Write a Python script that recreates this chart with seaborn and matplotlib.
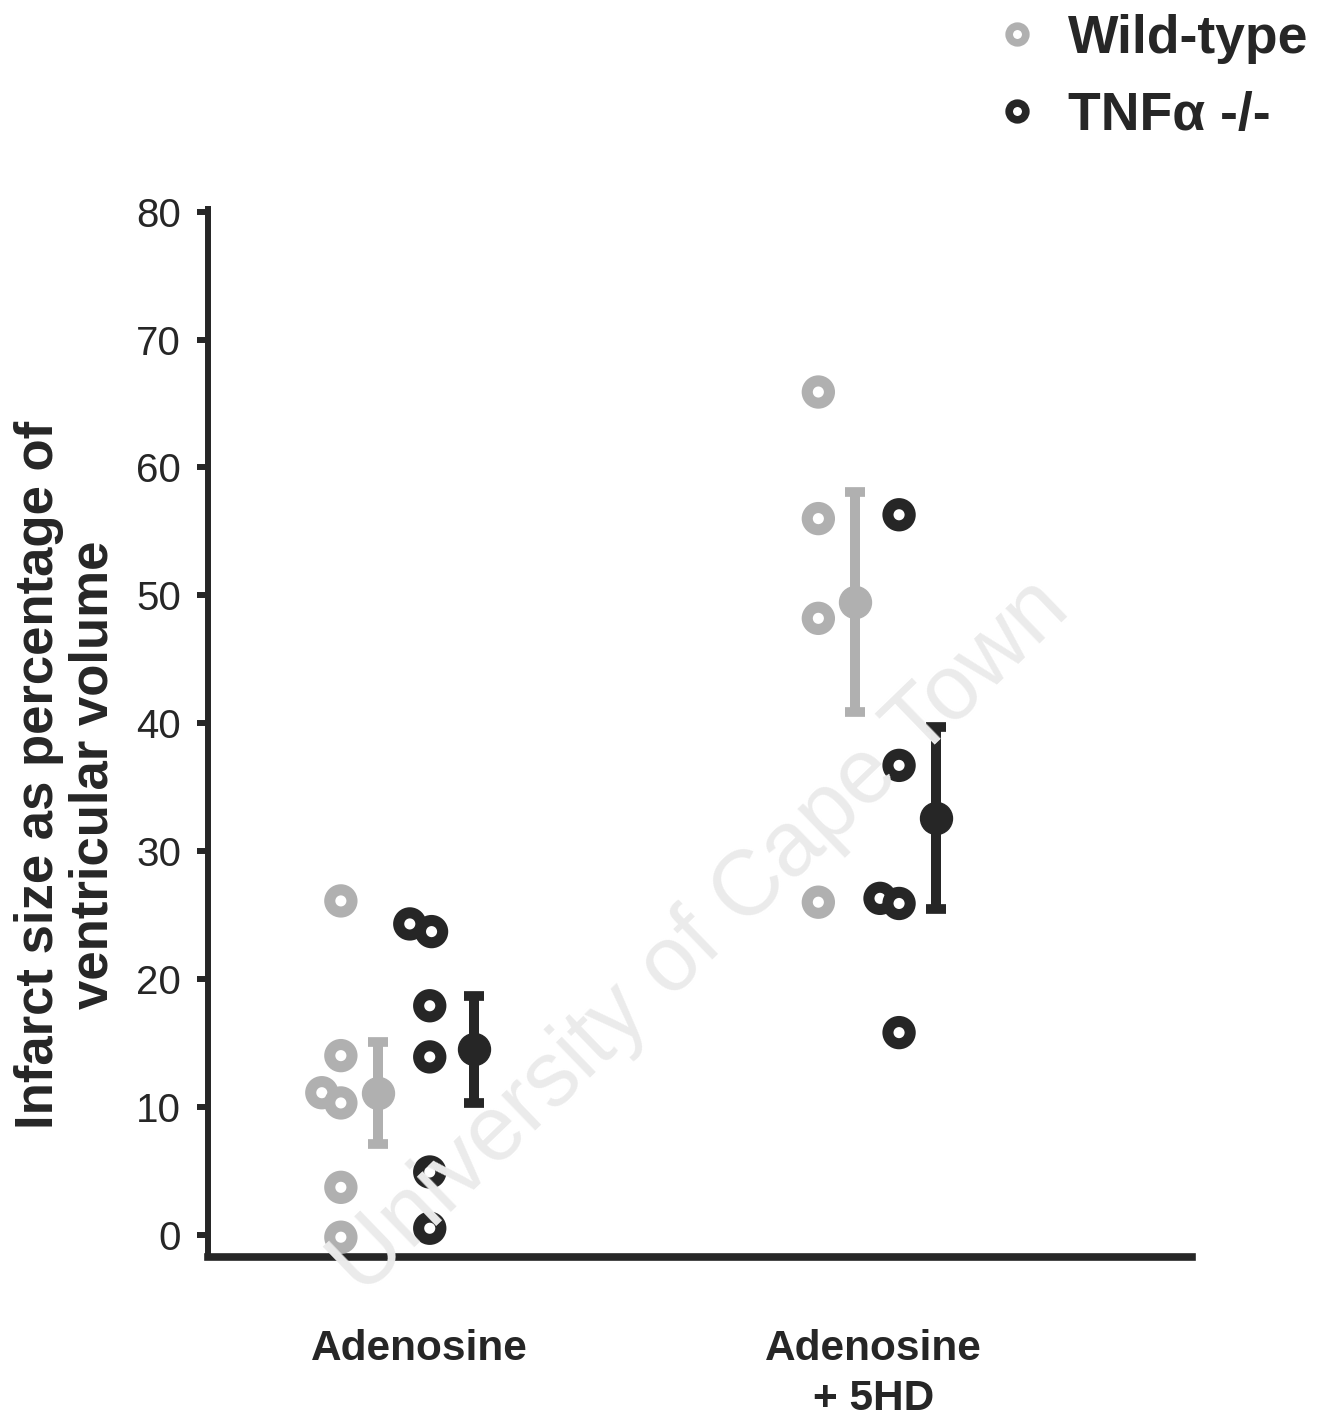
import numpy as np
import pandas as pd
import matplotlib
matplotlib.use("Agg")
import matplotlib.pyplot as plt
from matplotlib.lines import Line2D
import seaborn as sns

# ---- data: infarct size (% of ventricular volume) ----
groups = ["Adenosine", "Adenosine\n+ 5HD"]
genotypes = ["Wild-type", "TNF\u03b1 -/-"]

wt_adenosine = [26.1, 14.0, 11.1, 10.3, 3.7, -0.2]
tnf_adenosine = [24.3, 23.7, 17.9, 13.9, 4.9, 0.5]
wt_5hd = [65.9, 56.0, 48.2, 26.0]
tnf_5hd = [56.3, 36.7, 26.3, 25.9, 15.8]

mean_values = [11.1, 14.5, 49.5, 32.6]      # WT-Ado, TNF-Ado, WT-5HD, TNF-5HD
sem_values = [4.0, 4.2, 8.6, 7.1]

yticks = [0, 10, 20, 30, 40, 50, 60, 70, 80]

# ---- layout: horizontal placement of each column within a group ----
point_offsets = {("Adenosine", "Wild-type"): -0.174, ("Adenosine", "TNF\u03b1 -/-"): 0.022,
                 ("5HD", "Wild-type"): -0.121, ("5HD", "TNF\u03b1 -/-"): 0.057}
mean_offsets = [-0.093, 0.119, -0.040, 0.139]
# small sideways nudges so touching rings stay visible
nudges_wt_ado = [0, 0, -0.042, 0, 0, 0]
nudges_tnf_ado = [-0.044, 0.004, 0, 0, 0, 0]
nudges_wt_5hd = [0, 0, 0, 0]
nudges_tnf_5hd = [0, 0, -0.042, 0, 0]

GREY = "#b0b0b0"
DARK = "#262626"
palette = {"Wild-type": GREY, "TNF\u03b1 -/-": DARK}

rows = []
for gi, (gkey, wt, tnf, nw, nt) in enumerate([
        ("Adenosine", wt_adenosine, tnf_adenosine, nudges_wt_ado, nudges_tnf_ado),
        ("5HD", wt_5hd, tnf_5hd, nudges_wt_5hd, nudges_tnf_5hd)]):
    for vals, nud, geno in [(wt, nw, genotypes[0]), (tnf, nt, genotypes[1])]:
        for v, n in zip(vals, nud):
            rows.append({"pos": gi + point_offsets[(gkey, geno)] + n,
                         "infarct": v, "genotype": geno})
df = pd.DataFrame(rows)

sns.set_style("ticks")
plt.rcParams["font.family"] = ["Liberation Sans", "DejaVu Sans"]
plt.rcParams["text.color"] = DARK
plt.rcParams["axes.labelcolor"] = DARK

fig = plt.figure(figsize=(13.22, 14.21), dpi=100)
ax = fig.add_axes([0.157, 0.1154, 0.745, 0.7356])

# watermark
fig.text(0.53, 0.34, "University of Cape Town", rotation=44, fontsize=66,
         color="#ebebeb", ha="center", va="center", zorder=0)

# individual animals as thick rings
sns.scatterplot(data=df, x="pos", y="infarct", hue="genotype", palette=palette,
                ax=ax, legend=False, s=256, linewidth=0, zorder=3)
# restyle as rings: white face, coloured edge
for coll in ax.collections:
    cols = coll.get_facecolors()
    coll.set_edgecolors(cols)
    coll.set_facecolors("white")
    coll.set_linewidths(8)

# group means with SEM
mean_pos = [0 + mean_offsets[0], 0 + mean_offsets[1], 1 + mean_offsets[2], 1 + mean_offsets[3]]
mean_cols = [GREY, DARK, GREY, DARK]
for x, m, e, c in zip(mean_pos, mean_values, sem_values, mean_cols):
    ax.errorbar(x, m, yerr=e, fmt="o", color=c, ms=23, elinewidth=7.2,
                capsize=7, capthick=7, zorder=4)

ax.set_xlim(-0.468, 1.704)
ax.set_ylim(-1.75, 80)
ax.set_yticks(yticks)
ax.set_yticklabels([str(t) for t in yticks])
ax.set_xticks([0, 1])
ax.set_xticklabels(groups, fontsize=30.5, fontweight="bold", linespacing=1.3)
ax.set_xlabel("")
ax.set_ylabel("")

ax.tick_params(axis="y", direction="out", length=8, width=4.3, pad=11,
               labelsize=29, colors=DARK)
ax.tick_params(axis="x", length=0, pad=52, colors=DARK)
sns.despine(ax=ax)
ax.spines["left"].set_linewidth(4.3)
ax.spines["bottom"].set_linewidth(5.5)
ax.spines["left"].set_color(DARK)
ax.spines["bottom"].set_color(DARK)
ax.spines["left"].set_bounds(-1.75, 80.2)

fig.text(0.05, 1 - 775 / 1421, "Infarct size as percentage of\nventricular volume",
         rotation=90, ha="center", va="center", fontsize=38, fontweight="bold",
         linespacing=1.1)

handles = [Line2D([], [], marker="o", ls="none", mfc="white", mec=GREY, ms=12, mew=5.5),
           Line2D([], [], marker="o", ls="none", mfc="white", mec=DARK, ms=12, mew=5.5)]
fig.legend(handles, genotypes, loc="upper right", bbox_to_anchor=(0.990, 0.990),
           frameon=False, prop={"size": 38.5, "weight": "bold"},
           handlelength=1.0, handletextpad=0.45, labelspacing=0.5, borderpad=0,
           borderaxespad=0)

fig.savefig("out.png", dpi=100)
